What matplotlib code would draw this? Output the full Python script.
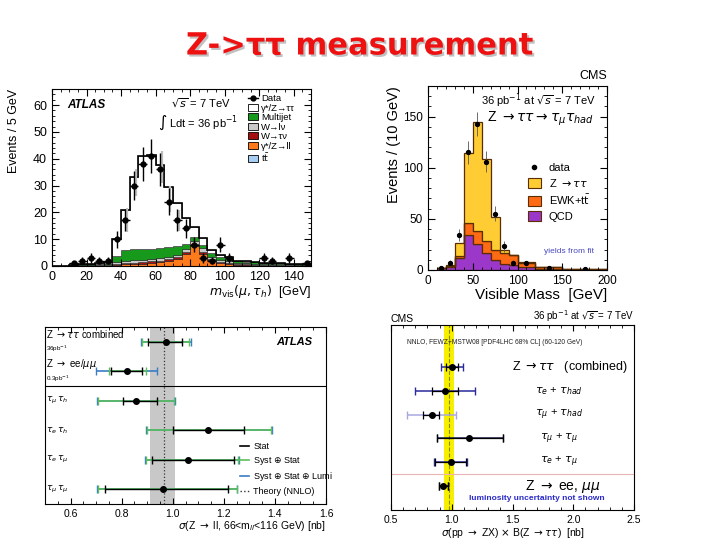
import numpy as np
import matplotlib
matplotlib.use('Agg')
import matplotlib.pyplot as plt
import matplotlib.patheffects as pe
from matplotlib.lines import Line2D
from matplotlib.patches import Patch
from matplotlib.ticker import MultipleLocator

plt.rcParams['font.family'] = ['Liberation Sans', 'DejaVu Sans']

# ---------------- ATLAS m_vis (top left) ----------------
atl_edges = np.arange(0, 155, 5)
atl_ttbar = [0, 0, 0, 0, 0, 0, 0, 0.1, 0.1, 0.1, 0.1, 0.1, 0.1, 0.1, 0.1,
             0.1, 0.1, 0.1, 0.1, 0.1, 0, 0, 0, 0, 0, 0, 0, 0, 0, 0]
atl_zll = [0, 0, 0.1, 0.1, 0.2, 0.2, 0.3, 0.3, 0.5, 0.6, 0.8, 1.0, 1.3, 1.8, 2.6,
           4.5, 7.5, 4.5, 2.0, 1.2, 0.8, 0.5, 0.4, 0.3, 0.3, 0.2, 0.2, 0.2, 0.1, 0.1]
atl_wtn = [0, 0, 0.1, 0.1, 0.1, 0.2, 0.2, 0.5, 0.6, 0.6, 0.6, 0.6, 0.6, 0.6, 0.6,
           0.6, 0.6, 0.5, 0.4, 0.3, 0.3, 0.2, 0.2, 0.2, 0.1, 0.1, 0.1, 0.1, 0.1, 0.1]
atl_wln = [0, 0, 0.1, 0.2, 0.2, 0.2, 0.3, 0.5, 0.8, 0.8, 0.8, 0.8, 0.8, 0.9, 0.9,
           1.0, 1.2, 1.5, 1.0, 0.8, 0.6, 0.5, 0.4, 0.4, 0.4, 0.3, 0.3, 0.3, 0.2, 0.2]
atl_mj = [0, 0, 0.1, 0.2, 0.3, 0.3, 0.5, 2.2, 4.0, 4.1, 4.1, 4.0, 3.9, 3.7, 3.3,
          2.0, 1.3, 1.3, 1.3, 1.0, 1.0, 0.6, 0.6, 0.6, 0.5, 0.4, 0.4, 0.3, 0.3, 0.2]
atl_ztt = [0, 0, 0.1, 0.1, 0.1, 0.1, 0.2, 6.4, 15, 26.8, 34.6, 35, 30.8, 22.4, 16,
           9.8, 3.8, 2.6, 1.2, 0.6, 0.8, 0.2, 0.2, 0, 0, 0, 0, 0, 0, 0]
atl_x = [12.5, 17.5, 22.5, 27.5, 32.5, 37.5, 42.5, 47.5, 52.5, 57.5, 62.5, 67.5,
         72.5, 77.5, 82.5, 87.5, 92.5, 97.5, 102.5, 122.5, 127.5, 137.5, 147.5]
atl_y = [1, 2, 3, 2, 2, 10, 17, 30, 38, 41, 36, 24, 17, 14, 8, 3, 2, 8, 3, 3, 2, 3, 1]
atl_err = [1, 1.4, 1.7, 1.4, 1.4, 3.2, 4.1, 5.5, 6.2, 6.4, 6, 4.9, 4.1, 3.7, 2.8,
           1.7, 1.4, 2.8, 1.7, 1.7, 1.4, 1.7, 1]
# faint grey ghost error bars visible behind the data
atl_ghost_x = [43.5, 48.5, 63.5, 68.5, 73.5]
atl_ghost_y = [17, 31, 37, 25, 17]
atl_ghost_err = [4.5, 5, 6, 5, 4]

# ---------------- CMS visible mass (top right) ----------------
cms_edges = [10, 20, 30, 40, 50, 60, 70, 80, 90, 100, 120, 150, 200]
cms_qcd = [1.5, 2.5, 12, 34, 25, 17, 10, 6, 5, 2.6, 1.3, 0.3]
cms_ewk = [0.5, 1.5, 1.5, 11.5, 13, 11.5, 10, 10.5, 9.5, 4.6, 2, 0.4]
cms_ztt = [0, 0.5, 13, 69, 107, 80.5, 32, 3, 0.5, 0.2, 0.1, 0]
cms_x = [15, 25, 35, 45, 55, 65, 75, 85, 95, 110, 135, 175]
cms_y = [2, 7, 34, 115, 143, 106, 55, 23, 7, 7, 2, 0.5]
cms_err = [1.4, 2.6, 6, 11, 12, 10, 7.5, 5, 2.6, 2, 1, 0.5]

# ---------------- ATLAS cross sections (bottom left) ----------------
xs_rows = [5.5, 4.5, 3.5, 2.5, 1.5, 0.5]
xs_val = [0.972, 0.82, 0.855, 1.14, 1.06, 0.96]
xs_stat_lo = [0.905, 0.76, 0.806, 1.00, 0.92, 0.735]
xs_stat_hi = [1.035, 0.88, 0.938, 1.28, 1.24, 1.215]
xs_syst_lo = [0.88, 0.75, 0.706, 0.90, 0.897, 0.706]
xs_syst_hi = [1.065, 0.897, 1.005, 1.385, 1.255, 1.25]
xs_lumi_lo = [0.874, 0.70, 0.703, 0.897, 0.893, 0.703]
xs_lumi_hi = [1.071, 0.94, 1.008, 1.388, 1.26, 1.253]
xs_band = (0.912, 1.010)
xs_theory = 0.964

# ---------------- CMS cross sections (bottom right) ----------------
cx_rows = [6, 5, 4, 3, 2, 1]
cx_val = [1.00, 0.944, 0.834, 1.144, 0.993, 0.93]
cx_in_lo = [0.955, 0.84, 0.766, 0.875, 0.86, 0.897]
cx_in_hi = [1.053, 1.048, 0.895, 1.418, 1.12, 0.966]
cx_out_lo = [0.908, 0.697, 0.629, 0.875, 0.856, 0.897]
cx_out_hi = [1.095, 1.19, 1.037, 1.418, 1.125, 0.966]
cx_out_col = ['#2a2a9a', '#2a2a9a', '#a8a8e0', '#1a1a50', '#2a2a9a', 'black']
cx_band = (0.936, 1.015)
cx_theory = 0.977

fig = plt.figure(figsize=(7.2, 5.4), dpi=100)


def axes_px(l, t, r, b):
    return fig.add_axes([l / 720, 1 - b / 540, (r - l) / 720, (b - t) / 540])


fig.text(359 / 720, 1 - 46 / 540, 'Z->ττ measurement', ha='center', va='center',
         fontsize=22, fontweight='bold', color='#ee1111', family='DejaVu Sans',
         path_effects=[pe.SimplePatchShadow(offset=(1.5, -1.5), shadow_rgbFace='#999999', alpha=0.6),
                       pe.Normal()])

# ---- panel 1
ax1 = axes_px(52, 89, 311, 266)
comps = [atl_ttbar, atl_zll, atl_wtn, atl_wln, atl_mj, atl_ztt]
cols = ['#a6cdf2', '#ff7a1a', '#a3100f', '#c9c9c9', '#179a1c', 'white']
base = np.zeros(len(atl_ztt))
for vals, c in zip(comps, cols):
    top = base + np.array(vals)
    ax1.stairs(top, atl_edges, baseline=base, fill=True, facecolor=c,
               edgecolor='#222222', lw=0.4)
    base = top
ax1.stairs(base, atl_edges, color='black', lw=1.2)
ax1.errorbar(atl_ghost_x, atl_ghost_y, yerr=atl_ghost_err, fmt='none',
             ecolor='#bdbdbd', lw=1.6, capsize=0)
ax1.errorbar(atl_x, atl_y, yerr=atl_err, xerr=2.5, fmt='o', color='black',
             ms=3.5, lw=1, capsize=0)
ax1.set_xlim(0, 150)
ax1.set_ylim(0, 66)
ax1.xaxis.set_major_locator(MultipleLocator(20))
ax1.xaxis.set_minor_locator(MultipleLocator(5))
ax1.yaxis.set_major_locator(MultipleLocator(10))
ax1.yaxis.set_minor_locator(MultipleLocator(2))
ax1.tick_params(which='both', direction='in', top=True, right=True, labelsize=9)
ax1.tick_params(which='major', length=5)
ax1.tick_params(which='minor', length=2.5)
ax1.set_ylabel('Events / 5 GeV', fontsize=9, loc='top')
ax1.yaxis.set_label_coords(-0.125, 1.0)
ax1.set_xlabel(r'$m_{\rm vis}(\mu, \tau_h)$  [GeV]', fontsize=9, loc='right', labelpad=0)
ax1.text(0.058, 0.91, 'ATLAS', transform=ax1.transAxes, fontsize=8.5,
         fontweight='bold', style='italic', va='center')
ax1.text(0.46, 0.92, r'$\sqrt{s}$ = 7 TeV', transform=ax1.transAxes, fontsize=8, va='center')
ax1.text(0.41, 0.81, r'$\int$ Ldt = 36 pb$^{-1}$', transform=ax1.transAxes, fontsize=8, va='center')
h1 = [Line2D([0], [0], color='black', marker='o', ms=3.5, lw=1)]
labs1 = ['Data', 'γ*/Z→ττ', 'Multijet', 'W→lν', 'W→τν', 'γ*/Z→ll', r't$\bar{\rm t}$']
for c in ['white', '#179a1c', '#c9c9c9', '#a3100f', '#ff7a1a', '#a6cdf2']:
    h1.append(Patch(facecolor=c, edgecolor='black', lw=0.6))
ax1.legend(h1, labs1, loc='upper left', bbox_to_anchor=(0.735, 1.0), frameon=False,
           fontsize=6.8, labelspacing=0.05, handlelength=1.1, handleheight=0.8,
           handletextpad=0.3, borderaxespad=0.15)

# ---- panel 2
ax2 = axes_px(428, 86, 607, 270)
base = np.zeros(len(cms_qcd))
for vals, c in zip([cms_qcd, cms_ewk, cms_ztt], ['#9b37c9', '#ff6a14', '#ffcc33']):
    top = base + np.array(vals)
    ax2.stairs(top, cms_edges, baseline=base, fill=True, facecolor=c,
               edgecolor='#5a2e00', lw=0.9)
    base = top
ax2.errorbar(cms_x, cms_y, yerr=cms_err, fmt='o', color='black', ms=2.8,
             lw=0.6, ecolor='#555555', capsize=0)
ax2.set_xlim(0, 200)
ax2.set_ylim(0, 180)
ax2.xaxis.set_major_locator(MultipleLocator(50))
ax2.xaxis.set_minor_locator(MultipleLocator(10))
ax2.yaxis.set_major_locator(MultipleLocator(50))
ax2.yaxis.set_minor_locator(MultipleLocator(10))
ax2.tick_params(which='both', direction='in', top=True, right=True, labelsize=8.5)
ax2.tick_params(which='major', length=5)
ax2.tick_params(which='minor', length=2.5)
ax2.set_ylabel('Events / (10 GeV)', fontsize=10.5, loc='top')
ax2.yaxis.set_label_coords(-0.15, 1.0)
ax2.set_xlabel('Visible Mass  [GeV]', fontsize=11, loc='right', labelpad=1)
ax2.text(1.0, 1.02, 'CMS', transform=ax2.transAxes, ha='right', va='bottom', fontsize=9)
ax2.text(0.615, 0.918, r'36 pb$^{-1}$ at $\sqrt{s}$ = 7 TeV', transform=ax2.transAxes,
         ha='center', va='center', fontsize=8)
ax2.text(0.626, 0.82, r'Z $\rightarrow\tau\tau\rightarrow\tau_\mu\tau_{had}$',
         transform=ax2.transAxes, ha='center', va='center', fontsize=10)
ax2.text(0.79, 0.098, 'yields from fit', transform=ax2.transAxes, ha='center',
         va='center', fontsize=6, color='#4a4ac0')
h2 = [Line2D([0], [0], color='black', marker='o', ms=3, lw=0)]
for c in ['#ffcc33', '#ff6a14', '#9b37c9']:
    h2.append(Patch(facecolor=c, edgecolor='#5a2e00', lw=0.8))
ax2.legend(h2, ['data', r'Z $\rightarrow\tau\tau$', r'EWK+t$\bar{\rm t}$', 'QCD'],
           loc='upper left', bbox_to_anchor=(0.5, 0.64), frameon=False, fontsize=8,
           labelspacing=0.35, handlelength=1.2, handleheight=1.0, handletextpad=0.7)

# ---- panel 3
ax3 = axes_px(45, 327, 326, 504)
ax3.axvspan(*xs_band, color='#c8c8c8', lw=0)
ax3.axvline(xs_theory, color='#333333', ls=':', lw=0.9)
ax3.axhline(4.0, color='black', lw=0.8)
v = np.array(xs_val)
for lo, hi, c, lw in [(xs_lumi_lo, xs_lumi_hi, '#3b7dc4', 1.2),
                      (xs_syst_lo, xs_syst_hi, '#5cbf5c', 1.2),
                      (xs_stat_lo, xs_stat_hi, 'black', 1.0)]:
    ax3.errorbar(v, xs_rows, xerr=[v - np.array(lo), np.array(hi) - v], fmt='none',
                 ecolor=c, lw=lw, capsize=3, capthick=1)
ax3.plot(v, xs_rows, 'o', color='black', ms=4)
ax3.set_xlim(0.5, 1.6)
ax3.set_ylim(0, 6)
ax3.set_yticks([])
ax3.xaxis.set_major_locator(MultipleLocator(0.2))
ax3.xaxis.set_minor_locator(MultipleLocator(0.05))
ax3.tick_params(which='both', direction='in', top=True, labelsize=7.5)
ax3.tick_params(which='major', length=4)
ax3.tick_params(which='minor', length=2)
ax3.set_xlabel(r'$\sigma$(Z $\rightarrow$ ll, 66<m$_{ll}$<116 GeV) [nb]', fontsize=7.5,
               loc='right', labelpad=0)
ax3.text(0.505, 5.75, r'Z $\rightarrow\tau\tau$ combined', fontsize=7, va='center')
ax3.text(0.505, 5.25, r'36pb$^{-1}$', fontsize=4.5, va='center')
ax3.text(0.505, 4.75, r'Z $\rightarrow$ ee/$\mu\mu$', fontsize=7, va='center')
ax3.text(0.505, 4.25, r'0.3pb$^{-1}$', fontsize=4.5, va='center')
for y, lab in zip(xs_rows[2:], [r'$\tau_\mu\,\tau_h$', r'$\tau_e\,\tau_h$',
                                r'$\tau_e\,\tau_\mu$', r'$\tau_\mu\,\tau_\mu$']):
    ax3.text(0.505, y, lab, fontsize=6.5, va='center')
ax3.text(0.95, 0.915, 'ATLAS', transform=ax3.transAxes, ha='right', va='center',
         fontsize=8, fontweight='bold', style='italic')
h3 = [Line2D([0], [0], color='black', lw=1.2), Line2D([0], [0], color='#5cbf5c', lw=1.2),
      Line2D([0], [0], color='#3b7dc4', lw=1.2), Line2D([0], [0], color='#333333', lw=1, ls=':')]
ax3.legend(h3, ['Stat', r'Syst $\oplus$ Stat', r'Syst $\oplus$ Stat $\oplus$ Lumi', 'Theory (NNLO)'],
           loc='upper left', bbox_to_anchor=(0.68, 0.37), frameon=False, fontsize=6.5,
           labelspacing=0.4, handlelength=1.0, handletextpad=0.5, borderaxespad=0)

# ---- panel 4
ax4 = axes_px(391, 325, 634, 510)
ax4.axvspan(*cx_band, color='#f6f000', lw=0)
ax4.axvline(cx_theory, color='#8a8a00', ls='--', lw=0.8)
ax4.axhline(1.5, color='#e8b4b4', lw=0.8)
v = np.array(cx_val)
for i in range(len(cx_rows)):
    ax4.errorbar(v[i], cx_rows[i], xerr=[[v[i] - cx_out_lo[i]], [cx_out_hi[i] - v[i]]],
                 fmt='none', ecolor=cx_out_col[i], lw=1.1, capsize=3, capthick=1)
    ax4.errorbar(v[i], cx_rows[i], xerr=[[v[i] - cx_in_lo[i]], [cx_in_hi[i] - v[i]]],
                 fmt='none', ecolor='black', lw=0.9, capsize=3, capthick=0.9)
ax4.plot(v, cx_rows, 'o', color='black', ms=4)
ax4.set_xlim(0.5, 2.5)
ax4.set_ylim(0, 7.75)
ax4.set_yticks([])
ax4.xaxis.set_major_locator(MultipleLocator(0.5))
ax4.xaxis.set_minor_locator(MultipleLocator(0.1))
ax4.tick_params(which='both', direction='in', top=True, labelsize=7.5)
ax4.tick_params(which='major', length=4)
ax4.tick_params(which='minor', length=2)
ax4.set_xlabel(r'$\sigma$(pp $\rightarrow$ ZX) $\times$ B(Z $\rightarrow\tau\tau$)  [nb]',
               fontsize=7.5, labelpad=1)
ax4.text(0.0, 1.005, 'CMS', transform=ax4.transAxes, ha='left', va='bottom', fontsize=7.5)
ax4.text(1.0, 1.005, r'36 pb$^{-1}$ at $\sqrt{s}$ = 7 TeV', transform=ax4.transAxes,
         ha='right', va='bottom', fontsize=7)
ax4.text(0.63, 7.0, 'NNLO, FEWZ+MSTW08 [PDF4LHC 68% CL] (60-120 GeV)', fontsize=4.8,
         va='center', color='#222222')
ax4.text(1.97, 6, r'Z $\rightarrow\tau\tau$   (combined)', fontsize=9, ha='center', va='center')
for y, lab in zip(cx_rows[1:5], [r'$\tau_e$ + $\tau_{had}$', r'$\tau_\mu$ + $\tau_{had}$',
                                 r'$\tau_\mu$ + $\tau_\mu$', r'$\tau_e$ + $\tau_\mu$']):
    ax4.text(1.88, y, lab, fontsize=8, ha='center', va='center')
ax4.text(1.91, 1.0, r'Z $\rightarrow$ ee, $\mu\mu$', fontsize=10, ha='center', va='center')
ax4.text(1.70, 0.48, 'luminosity uncertainty not shown', fontsize=6, ha='center',
         va='center', color='#2a2ac8', fontweight='bold')

fig.savefig('out.png', dpi=100)
